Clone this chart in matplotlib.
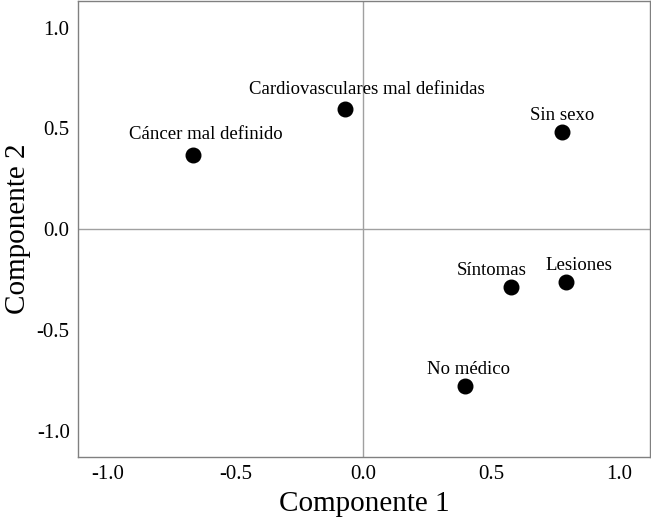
import matplotlib.pyplot as plt
import numpy as np

plt.rcParams['font.family'] = ['Liberation Serif', 'DejaVu Serif']
plt.rcParams['axes.unicode_minus'] = False

# data
labels = ['Cáncer mal definido', 'Cardiovasculares mal definidas', 'Sin sexo',
          'Síntomas', 'Lesiones', 'No médico']
comp1 = [-0.665, -0.074, 0.775, 0.576, 0.791, 0.395]
comp2 = [0.366, 0.594, 0.482, -0.286, -0.264, -0.777]
ticks = [-1.0, -0.5, 0.0, 0.5, 1.0]

# label offsets in points (dx, dy)
offsets = [(9, 9), (16, 8), (0, 6), (-14, 6), (9, 6), (3, 6)]

if __name__ == '__main__':
    fig = plt.figure(figsize=(6.51, 5.25), dpi=100)
    ax = fig.add_axes([0.1198, 0.1295, 0.8787, 0.8695])

    ax.axhline(0, color='#a0a0a0', linewidth=1.0, zorder=1)
    ax.axvline(0, color='#a0a0a0', linewidth=1.0, zorder=1)

    ax.scatter(comp1, comp2, s=110, color='black', zorder=3)
    for name, x, y, off in zip(labels, comp1, comp2, offsets):
        ax.annotate(name, (x, y), xytext=off, textcoords='offset points',
                    ha='center', va='bottom', fontsize=13.5)

    ax.set_xlim(-1.115, 1.119)
    ax.set_ylim(-1.13, 1.134)
    ax.set_xticks(ticks)
    ax.set_yticks(ticks)
    ax.set_xticklabels([f'{t:.1f}' for t in ticks])
    ax.set_yticklabels([f'{t:.1f}' for t in ticks])
    ax.tick_params(length=0, labelsize=15)
    ax.tick_params(axis='x', pad=6)
    ax.tick_params(axis='y', pad=6)

    for sp in ax.spines.values():
        sp.set_color('#808080')
        sp.set_linewidth(1.0)

    ax.set_xlabel('Componente 1', fontsize=21, labelpad=5)
    ax.set_ylabel('Componente 2', fontsize=21, labelpad=4)

    plt.savefig('out.png', dpi=100)
